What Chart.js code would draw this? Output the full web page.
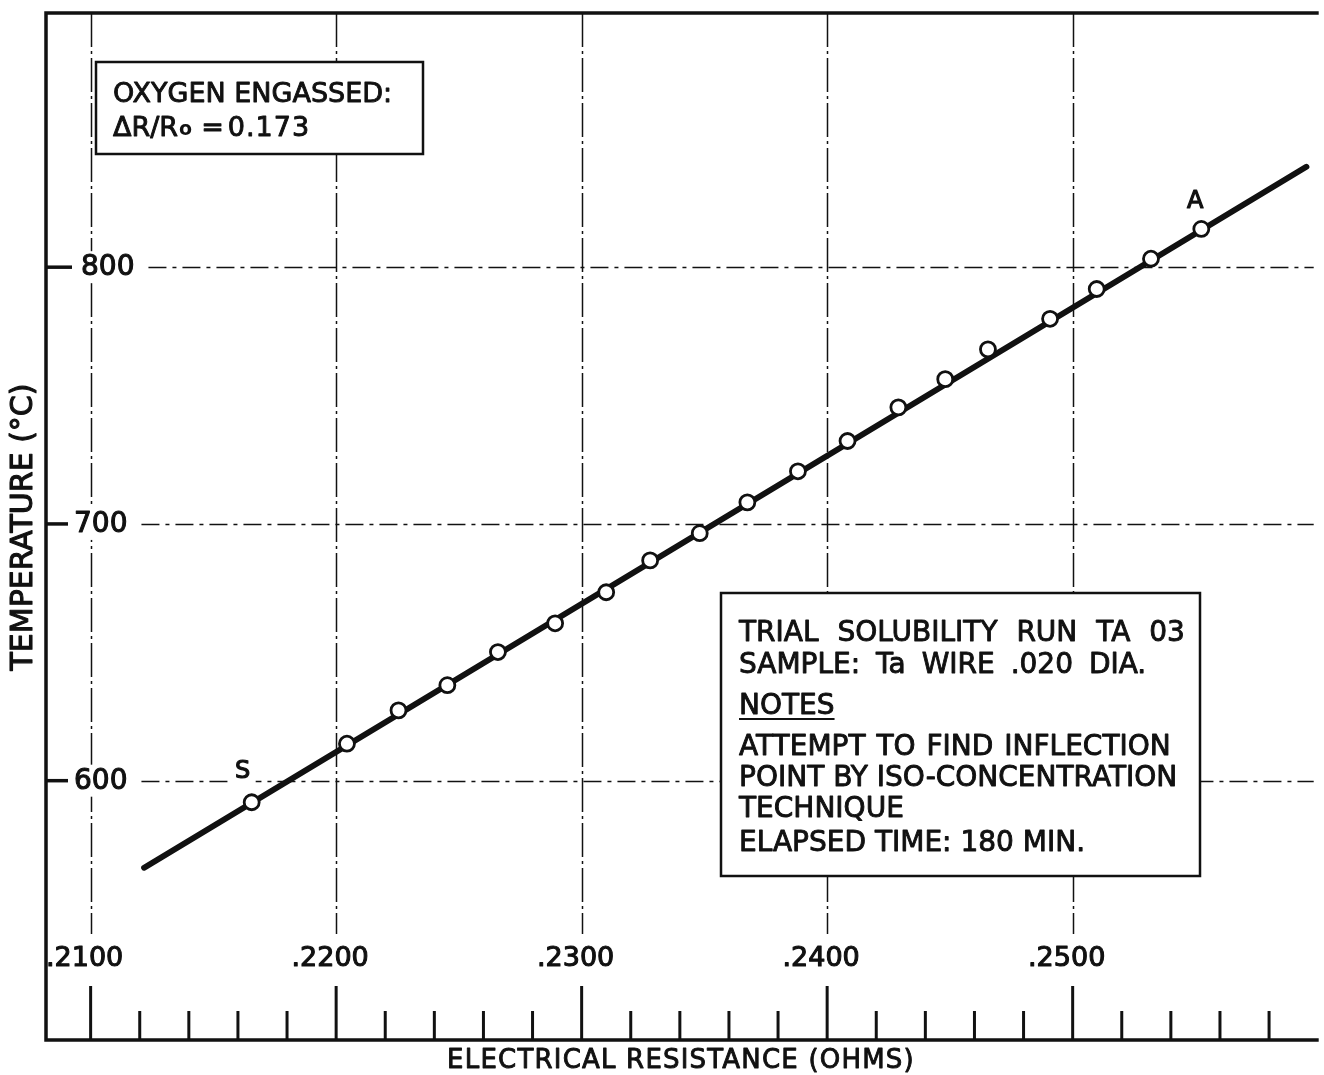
<!DOCTYPE html>
<html>
<head>
<meta charset="utf-8">
<script src="https://cdn.jsdelivr.net/npm/chart.js@4/dist/chart.umd.min.js"></script>
<style>
  html, body { margin: 0; padding: 0; background: #ffffff; overflow: hidden; }
  #c { display: block; }
</style>
</head>
<body>
<canvas id="c" width="1324" height="1075" style="width:1324px;height:1075px"></canvas>
<script>
// ---- data ----
const resistance = [0.21656, 0.22044, 0.22254, 0.22453, 0.22659, 0.22892, 0.23100, 0.23279, 0.23481, 0.23675,
                    0.23881, 0.24083, 0.24290, 0.24481, 0.24655, 0.24908, 0.25098, 0.25319, 0.25524];
const temperature = [591.6, 614.4, 627.4, 637.2, 650.1, 661.3, 673.4, 685.8, 696.4, 708.4,
                     720.5, 732.3, 745.4, 756.4, 768.0, 779.9, 791.5, 803.3, 814.9];
const fitResistance = [0.21218, 0.25952];
const fitTemperature = [566.1, 839.1];
const xMajorTicks = [0.21, 0.22, 0.23, 0.24, 0.25];
const xTickLabels = ['.2100', '.2200', '.2300', '.2400', '.2500'];
const xMinorTicks = [0.212, 0.214, 0.216, 0.218, 0.222, 0.224, 0.226, 0.228, 0.232, 0.234, 0.236, 0.238,
                     0.242, 0.244, 0.246, 0.248, 0.252, 0.254, 0.256, 0.258];
const yTicks = [600, 700, 800];
const yTickLabels = ['600', '700', '800'];
const pointLabels = [{ text: 'S', x: 0.21656, y: 591.6 }, { text: 'A', x: 0.25524, y: 814.9 }];
const xTitle = 'ELECTRICAL RESISTANCE (OHMS)';
const yTitle = 'TEMPERATURE (°C)';
const box1Lines = ['OXYGEN ENGASSED:'];
const box2Lines = ['TRIAL SOLUBILITY RUN TA 03', 'SAMPLE: Ta WIRE .020 DIA.', 'NOTES',
                   'ATTEMPT TO FIND INFLECTION', 'POINT BY ISO-CONCENTRATION', 'TECHNIQUE',
                   'ELAPSED TIME: 180 MIN.'];

const FONT = '"DejaVu Sans", sans-serif';
const INK = '#111111';

function boldText(ctx, t, x, y, w) {
  ctx.fillText(t, x, y);
  ctx.save();
  ctx.lineWidth = w || 0.9;
  ctx.lineJoin = 'round';
  ctx.strokeStyle = ctx.fillStyle;
  ctx.strokeText(t, x, y);
  ctx.restore();
}

const decor = {
  id: 'decor',
  beforeDatasetsDraw(chart) {
    const ctx = chart.ctx, xs = chart.scales.x, ys = chart.scales.y, a = chart.chartArea;
    ctx.save();
    ctx.strokeStyle = INK;
    // vertical grid lines
    ctx.lineWidth = 1.5;
    ctx.setLineDash([34, 4, 3, 4]);
    xMajorTicks.forEach(v => {
      const x = Math.round(xs.getPixelForValue(v)) + 0.5;
      ctx.beginPath(); ctx.moveTo(x, a.top); ctx.lineTo(x, 934); ctx.stroke();
    });
    // horizontal grid lines
    ctx.setLineDash([18, 6, 4, 6]);
    ctx.font = '28px ' + FONT;
    yTicks.forEach((v, i) => {
      const y = Math.round(ys.getPixelForValue(v)) + 0.5;
      const lx = v === 800 ? 81 : 74;
      const w = ctx.measureText(yTickLabels[i]).width;
      ctx.beginPath(); ctx.moveTo(lx + w + 14, y); ctx.lineTo(a.right, y); ctx.stroke();
    });
    ctx.setLineDash([]);
    // y tick marks and labels
    yTicks.forEach((v, i) => {
      const y = ys.getPixelForValue(v);
      const lx = v === 800 ? 81 : 74;
      ctx.lineWidth = 3.5;
      ctx.beginPath(); ctx.moveTo(a.left, y); ctx.lineTo(v === 800 ? 72 : 68, y); ctx.stroke();
      const w = ctx.measureText(yTickLabels[i]).width;
      ctx.fillStyle = '#ffffff';
      ctx.fillRect(lx - 2, y - 16, w + 4, 32);
      ctx.fillStyle = INK;
      ctx.textAlign = 'left'; ctx.textBaseline = 'middle';
      boldText(ctx, yTickLabels[i], lx, y + 1, 1.1);
    });
    // x tick labels
    ctx.font = '27px ' + FONT;
    ctx.textAlign = 'center'; ctx.textBaseline = 'middle';
    xMajorTicks.forEach((v, i) => {
      const x = xs.getPixelForValue(v) - 6;
      boldText(ctx, xTickLabels[i], x, 959, 1.1);
    });
    // bottom tick marks (inside the frame)
    ctx.lineWidth = 3;
    xMajorTicks.forEach(v => {
      const x = xs.getPixelForValue(v);
      ctx.beginPath(); ctx.moveTo(x, a.bottom); ctx.lineTo(x, 986); ctx.stroke();
    });
    xMinorTicks.forEach(v => {
      const x = xs.getPixelForValue(v);
      ctx.beginPath(); ctx.moveTo(x, a.bottom); ctx.lineTo(x, 1011); ctx.stroke();
    });
    ctx.restore();
  },
  afterDatasetsDraw(chart) {
    const ctx = chart.ctx, xs = chart.scales.x, ys = chart.scales.y, a = chart.chartArea;
    ctx.save();
    ctx.strokeStyle = INK; ctx.fillStyle = INK;
    // frame
    ctx.lineWidth = 3.5;
    ctx.beginPath();
    ctx.moveTo(a.right + 5, a.top); ctx.lineTo(a.left, a.top); ctx.lineTo(a.left, a.bottom); ctx.lineTo(a.right + 5, a.bottom);
    ctx.stroke();
    // point labels S and A
    ctx.font = '24px ' + FONT;
    ctx.textAlign = 'center'; ctx.textBaseline = 'middle';
    pointLabels.forEach(p => {
      const px = xs.getPixelForValue(p.x), py = ys.getPixelForValue(p.y);
      const lx = p.text === 'S' ? px - 9 : px - 6;
      const ly = p.text === 'S' ? py - 30 : py - 27;
      ctx.fillStyle = '#ffffff';
      ctx.fillRect(lx - 13, ly - 13, 26, 25);
      ctx.fillStyle = INK;
      boldText(ctx, p.text, lx, ly, 1.2);
    });
    // box 1
    ctx.lineWidth = 2.5;
    ctx.fillStyle = '#ffffff';
    ctx.fillRect(96, 62, 327, 92);
    ctx.strokeRect(96, 62, 327, 92);
    ctx.fillStyle = INK;
    ctx.textAlign = 'left'; ctx.textBaseline = 'alphabetic';
    ctx.font = '27px ' + FONT;
    boldText(ctx, box1Lines[0], 113, 102);
    let x = 113;
    const p1 = '\u0394R/R';
    boldText(ctx, p1, x, 136); x += ctx.measureText(p1).width;
    ctx.font = 'bold 19px ' + FONT;
    ctx.fillText('o', x + 1, 135); x += ctx.measureText('o').width + 10;
    ctx.font = '27px ' + FONT;
    boldText(ctx, '=', x, 136); x += ctx.measureText('=').width + 4;
    ctx.letterSpacing = '1px';
    boldText(ctx, '0.173', x, 136);
    ctx.letterSpacing = '0px';
    // box 2
    ctx.fillStyle = '#ffffff';
    ctx.fillRect(721, 593, 479, 283);
    ctx.strokeRect(721, 593, 479, 283);
    ctx.fillStyle = INK;
    const base = [641, 673, 714, 755, 786, 817, 851];
    const wsp = ['10px', '7px', '0px', '2px', '0px', '0px', '0px'];
    box2Lines.forEach((t, i) => {
      ctx.font = '28px ' + FONT;
      ctx.wordSpacing = wsp[i];
      boldText(ctx, t, 739, base[i]);
      if (t === 'NOTES') {
        const w = ctx.measureText(t).width;
        ctx.lineWidth = 2.2;
        ctx.beginPath(); ctx.moveTo(739, base[i] + 5); ctx.lineTo(739 + w, base[i] + 5); ctx.stroke();
      }
    });
    ctx.wordSpacing = '0px';
    // axis titles
    ctx.font = '26px ' + FONT;
    ctx.letterSpacing = '1.2px';
    ctx.textAlign = 'center'; ctx.textBaseline = 'middle';
    boldText(ctx, xTitle, 681, 1061);
    ctx.letterSpacing = '0px';
    ctx.save();
    ctx.translate(24, 527);
    ctx.rotate(-Math.PI / 2);
    ctx.font = '30px ' + FONT;
    boldText(ctx, yTitle, 0, 0, 1.1);
    ctx.restore();
    ctx.restore();
  }
};

new Chart(document.getElementById('c'), {
  type: 'scatter',
  data: {
    datasets: [
      {
        label: 'Measured',
        data: resistance.map((r, i) => ({ x: r, y: temperature[i] })),
        pointRadius: 7.5,
        pointHoverRadius: 7.5,
        pointBackgroundColor: '#ffffff',
        pointBorderColor: INK,
        pointBorderWidth: 2.8,
        showLine: false,
        order: 0
      },
      {
        type: 'line',
        label: 'Fit',
        data: fitResistance.map((r, i) => ({ x: r, y: fitTemperature[i] })),
        borderColor: INK,
        borderWidth: 6,
        borderCapStyle: 'round',
        pointRadius: 0,
        fill: false,
        order: 1
      }
    ]
  },
  options: {
    responsive: false,
    maintainAspectRatio: false,
    devicePixelRatio: 1,
    animation: false,
    layout: { padding: { left: 46, top: 13, right: 0, bottom: 35 } },
    plugins: { legend: { display: false }, tooltip: { enabled: false } },
    scales: {
      x: { type: 'linear', min: 0.208182, max: 0.259818, display: false },
      y: { type: 'linear', min: 499, max: 899, display: false }
    }
  },
  plugins: [decor]
});
</script>
</body>
</html>
